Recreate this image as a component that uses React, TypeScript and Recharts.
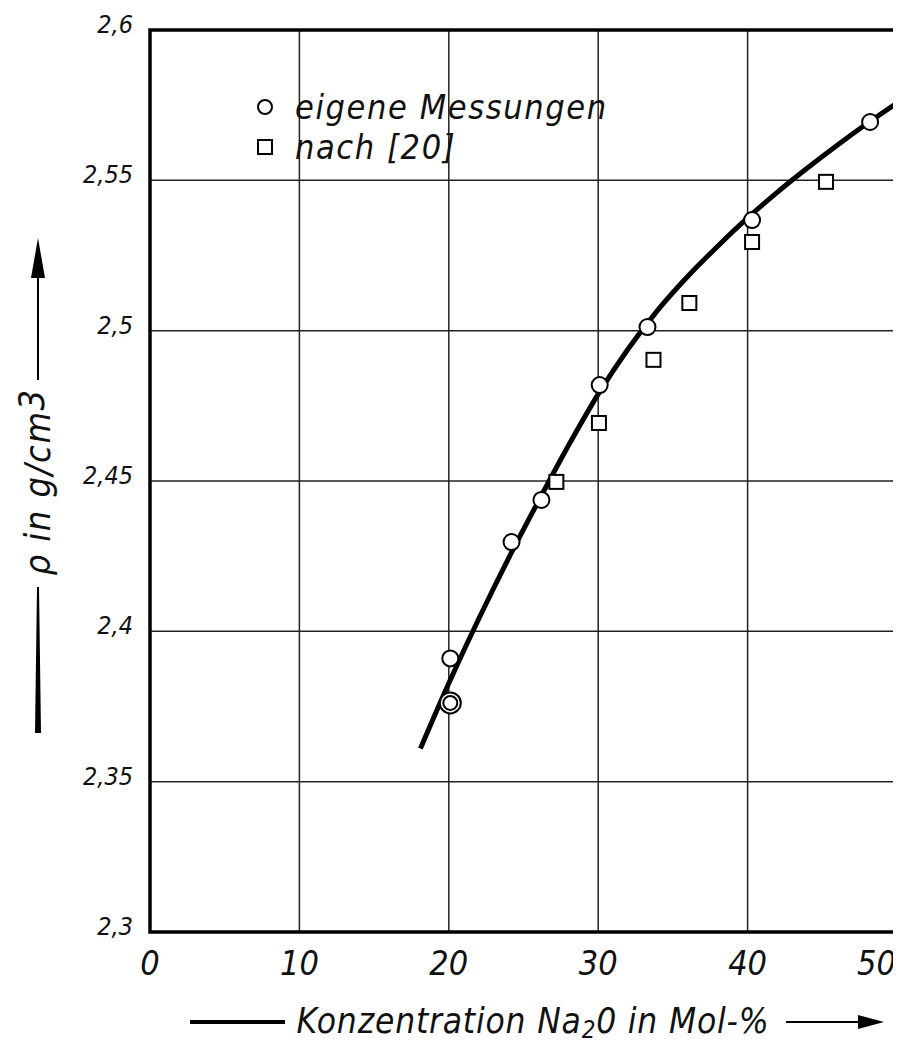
import {
  ComposedChart,
  Line,
  Scatter,
  XAxis,
  YAxis,
  CartesianGrid,
  ReferenceArea,
  Legend,
} from "recharts";

const font = "'DejaVu Sans Condensed', 'DejaVu Sans', sans-serif";

// Ausgleichskurve
const kurveKonz = [18.1, 20, 22, 24, 26, 28, 30, 32, 34, 36, 38, 40, 42, 44, 46, 48, 50];
const kurveDichte = [
  2.361, 2.3827, 2.4041, 2.4243, 2.4433, 2.4617, 2.4789, 2.4939, 2.5069, 2.5181, 2.5281,
  2.5375, 2.5461, 2.5541, 2.5617, 2.5689, 2.5757,
];

// eigene Messungen
const eigeneKonz = [20.1, 24.2, 26.2, 30.1, 33.3, 40.3, 48.2];
const eigeneDichte = [2.391, 2.4297, 2.4437, 2.4819, 2.5012, 2.5368, 2.5694];

// doppelt markierter Messpunkt
const doppelKonz = [20.1];
const doppelDichte = [2.3762];

// nach [20]
const literaturKonz = [27.2, 30.05, 33.7, 36.1, 40.3, 45.25];
const literaturDichte = [2.4497, 2.4693, 2.4903, 2.5092, 2.5295, 2.5495];

const xTicks = [0, 10, 20, 30, 40, 50];
const yTicks = [2.3, 2.35, 2.4, 2.45, 2.5, 2.55, 2.6];
const yTickLabels = ["2,3", "2,35", "2,4", "2,45", "2,5", "2,55", "2,6"];

const zip = (xs: number[], ys: number[]) => xs.map((x, i) => ({ x, y: ys[i] }));

const kurve = zip(kurveKonz, kurveDichte);
const eigene = zip(eigeneKonz, eigeneDichte);
const doppel = zip(doppelKonz, doppelDichte);
const literatur = zip(literaturKonz, literaturDichte);

const Circle = (p: any) => (
  <circle cx={p.cx} cy={p.cy} r={8} fill="#fff" stroke="#000" strokeWidth={2} />
);

const DoubleCircle = (p: any) => (
  <g>
    <circle cx={p.cx} cy={p.cy} r={10.5} fill="#fff" stroke="#000" strokeWidth={2} />
    <circle cx={p.cx} cy={p.cy} r={7} fill="#fff" stroke="#000" strokeWidth={2} />
  </g>
);

const Square = (p: any) => (
  <rect x={p.cx - 7} y={p.cy - 7} width={14} height={14} fill="#fff" stroke="#000" strokeWidth={2} />
);

const YTick = (p: any) => {
  const i = yTicks.findIndex((t) => Math.abs(t - p.payload.value) < 1e-6);
  return (
    <text x={p.x} y={p.y + 3} textAnchor="end" fontFamily={font} fontStyle="italic" fontSize={25} fill="#111">
      {yTickLabels[i]}
    </text>
  );
};

const XTick = (p: any) => {
  const last = p.payload.value === xTicks[xTicks.length - 1];
  return (
    <text
      x={last ? p.x + 3 : p.x}
      y={p.y + 43}
      textAnchor={last ? "end" : "middle"}
      fontFamily={font}
      fontStyle="italic"
      fontSize={34}
      fill="#111"
    >
      {p.payload.value}
    </text>
  );
};

const XTitle = (p: any) => {
  const { x, y } = p.viewBox;
  const ty = y + 90;
  return (
    <g>
      <line x1={x + 40} x2={x + 135} y1={ty} y2={ty} stroke="#000" strokeWidth={4} />
      <text
        x={x + 383}
        y={ty + 11}
        textAnchor="middle"
        fontFamily={font}
        fontStyle="italic"
        fontSize={35}
        letterSpacing={0.8}
        fill="#111"
      >
        Konzentration Na<tspan dy={5} fontSize={24}>2</tspan><tspan dy={-5}>0 in Mol-%</tspan>
      </text>
      <line x1={x + 636} x2={x + 712} y1={ty} y2={ty} stroke="#000" strokeWidth={2} />
      <polygon points={`${x + 708},${ty - 7} ${x + 734},${ty} ${x + 708},${ty + 7}`} fill="#000" />
    </g>
  );
};

const YTitle = () => {
  const cx = 30;
  return (
    <g>
      <polygon points={`${cx},230 ${cx - 7},270 ${cx + 7},270`} fill="#000" />
      <line x1={cx} x2={cx} y1={265} y2={372} stroke="#000" strokeWidth={2} />
      <text
        x={cx + 12}
        y={474}
        transform={`rotate(-90 ${cx + 12} 474)`}
        textAnchor="middle"
        fontFamily={font}
        fontStyle="italic"
        fontSize={36}
        letterSpacing={1.5}
        fill="#111"
      >
        ρ in g/cm<tspan dy={-6}>3</tspan>
      </text>
      <polygon points={`${cx - 1},579 ${cx + 1},579 ${cx + 3},725 ${cx - 3},725`} fill="#000" />
    </g>
  );
};

const LegendBox = () => (
  <div
    style={{
      fontFamily: font,
      fontStyle: "italic",
      fontSize: 34,
      letterSpacing: 1.6,
      lineHeight: "40px",
      color: "#111",
      whiteSpace: "nowrap",
    }}
  >
    <div style={{ display: "flex", alignItems: "center", height: 40 }}>
      <svg width={24} height={40}>
        <circle cx={12} cy={20} r={7} fill="#fff" stroke="#000" strokeWidth={2} />
      </svg>
      <span style={{ marginLeft: 18 }}>eigene Messungen</span>
    </div>
    <div style={{ display: "flex", alignItems: "center", height: 40 }}>
      <svg width={24} height={40}>
        <rect x={5} y={13} width={14} height={14} fill="#fff" stroke="#000" strokeWidth={2} />
      </svg>
      <span style={{ marginLeft: 18 }}>nach [20]</span>
    </div>
  </div>
);

export default function App() {
  return (
    <ComposedChart
      width={893}
      height={1035}
      margin={{ top: 22, right: 4, left: 0, bottom: 11 }}
      style={{ background: "#fff" }}
    >
      <CartesianGrid stroke="#222" strokeWidth={1.5} />
      <XAxis
        type="number"
        dataKey="x"
        domain={[0, 50]}
        ticks={xTicks}
        height={100}
        tickSize={0}
        tickMargin={0}
        axisLine={false}
        tick={<XTick />}
        label={{ content: <XTitle /> }}
        allowDataOverflow
      />
      <YAxis
        type="number"
        dataKey="y"
        domain={[2.3, 2.6]}
        ticks={yTicks}
        width={142}
        tickSize={0}
        tickMargin={17}
        axisLine={false}
        tick={<YTick />}
        label={{ content: <YTitle /> }}
        allowDataOverflow
      />
      <ReferenceArea x1={0} x2={50} y1={2.3} y2={2.6} fill="none" stroke="#000" strokeWidth={3.5} />
      <Line
        data={kurve}
        dataKey="y"
        type="monotone"
        stroke="#000"
        strokeWidth={5}
        dot={false}
        isAnimationActive={false}
      />
      <Scatter data={eigene} dataKey="y" shape={<Circle />} isAnimationActive={false} />
      <Scatter data={doppel} dataKey="y" shape={<DoubleCircle />} isAnimationActive={false} />
      <Scatter data={literatur} dataKey="y" shape={<Square />} isAnimationActive={false} />
      <Legend
        layout="vertical"
        align="center"
        verticalAlign="middle"
        content={<LegendBox />}
        wrapperStyle={{ top: 79, left: 245, width: "auto" }}
      />
    </ComposedChart>
  );
}
